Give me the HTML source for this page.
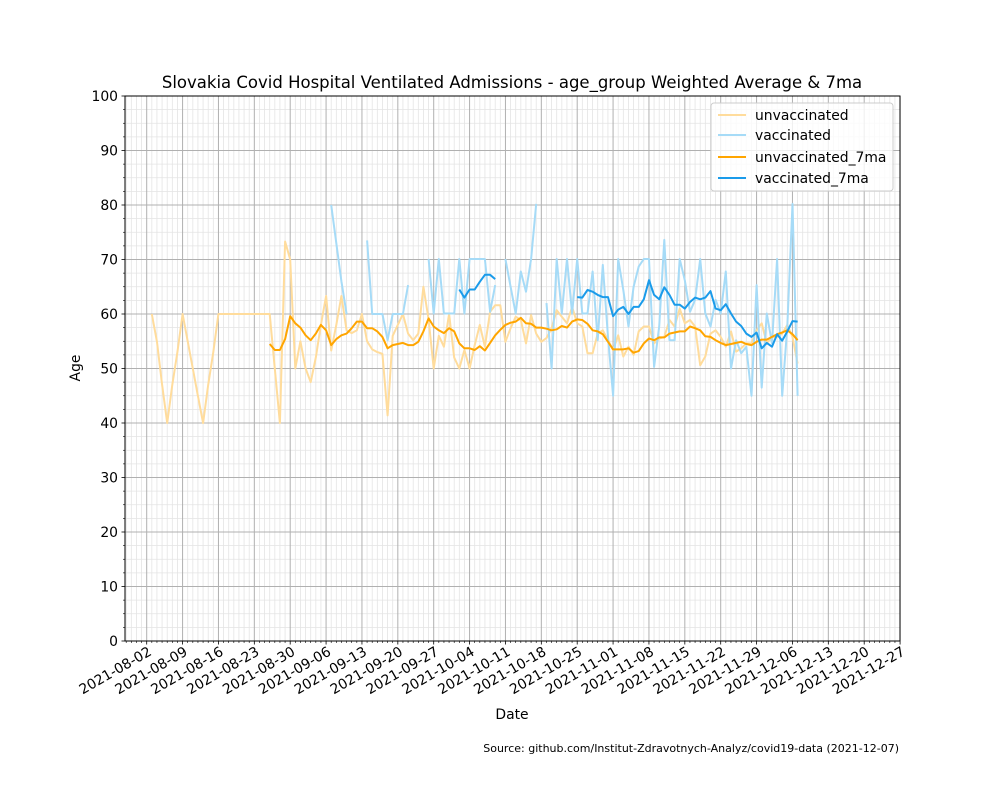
<!DOCTYPE html>
<html><head><meta charset="utf-8"><style>
html,body{margin:0;padding:0;background:#fff;}
svg{display:block;font-family:"DejaVu Sans","Liberation Sans",sans-serif;}
</style></head><body>
<svg id="chart" width="1000" height="800" viewBox="0 0 1000 800" xmlns="http://www.w3.org/2000/svg">
<rect x="0" y="0" width="1000" height="800" fill="#fff"/>
<g id="grid"></g>
<g id="series"></g>
<rect x="125" y="96" width="775" height="545" fill="none" stroke="#000" stroke-width="1"/>
<g id="axes"></g>
<text x="512" y="88" text-anchor="middle" font-size="16.5">Slovakia Covid Hospital Ventilated Admissions - age_group Weighted Average &amp; 7ma</text>
<text transform="translate(80,368) rotate(-90)" text-anchor="middle" font-size="13.9">Age</text>
<text x="512" y="719" text-anchor="middle" font-size="13.9">Date</text>
<text x="899" y="752" text-anchor="end" font-size="11">Source: github.com/Institut-Zdravotnych-Analyz/covid19-data (2021-12-07)</text>
<g>
<rect x="711" y="103" width="182" height="88" rx="3" fill="#fff" fill-opacity="0.8" stroke="#ccc"/>
<g><line x1="718" y1="115" x2="746" y2="115" stroke="#ffdc9c" stroke-width="2"/><text x="755" y="120" font-size="13.9">unvaccinated</text></g>
<g><line x1="718" y1="135" x2="746" y2="135" stroke="#a6dbf7" stroke-width="2"/><text x="755" y="140" font-size="13.9">vaccinated</text></g>
<g><line x1="718" y1="157" x2="746" y2="157" stroke="#ffa500" stroke-width="2"/><text x="755" y="162" font-size="13.9">unvaccinated_7ma</text></g>
<g><line x1="718" y1="178" x2="746" y2="178" stroke="#1a9bea" stroke-width="2"/><text x="755" y="183" font-size="13.9">vaccinated_7ma</text></g>
</g>
</svg>
<script>
const xTickLabels = ["2021-08-02","2021-08-09","2021-08-16","2021-08-23","2021-08-30","2021-09-06","2021-09-13","2021-09-20","2021-09-27","2021-10-04","2021-10-11","2021-10-18","2021-10-25","2021-11-01","2021-11-08","2021-11-15","2021-11-22","2021-11-29","2021-12-06","2021-12-13","2021-12-20","2021-12-27"];
const yTicks = [0,10,20,30,40,50,60,70,80,90,100];
const unvaxStart = 1;
const unvax = [60,55,47,40,47,53,60,55,50,45,40,47,53,60,
60,60,60,60,60,60,60,60,60,60,
50,40,73.3,70,50,55,50,47.5,52,58,63.3,53.3,58,63.3,57,56.5,57,60,55,53.5,53,52.7,
41.4,56,58,60,56.4,55.2,56.4,65,59,50,56,54,60,52,50,53.4,50,54.3,58,54,60.4,61.6,61.6,54.9,57.4,59.5,58.9,54.6,59.8,56.4,54.9,55.6,57.4,60.7,59.5,58.3,61.3,58.3,57.7,52.8,52.8,56.4,
57,55.2,53.4,56.1,52.2,54,52.5,56.8,57.7,57.7,54.6,55.5,55.8,58.9,57.7,61,58.3,58.9,57.7,50.6,52.2,56.4,57,55.8,54,56.8,53.1,53.7,54.6,54.6,57,58.3,54.6,55.8,55.8,56.4,58,55.8,50.9];
const vaxStart = 36;
const vax = [80,73,66,60,null,null,null,73.5,60,60,60,55.2,60,60,60,65.3,null,null,null,
70.1,60.1,70.1,60.1,60.1,60.1,70.1,60.1,70.1,70.1,70.1,70.1,60.4,65.3,null,
70.1,65,60.1,67.8,64.1,70.1,80.2,null,
62,50,70.1,60.1,70.1,60.1,70.1,60.1,60.1,67.8,55.2,69,55.8,45,70.1,64.4,57.7,65,68.7,70.1,70.1,50.3,57.7,73.6,55.2,55.2,70.1,66.2,60.4,62.6,70.1,60.1,57.7,62.6,60.1,67.8,50,55.2,52.8,54,45,65.3,46.5,60.1,54.6,70.1,45,57.7,80.2,45];
const unvax7Start = 24;
const unvax7 = [54.5,53.4,53.4,55.4,59.6,58.3,57.5,56.1,55.2,56.4,58,57,54.3,55.4,56.1,56.4,57.4,58.6,58.6,57.4,57.4,56.8,55.8,
53.7,54.3,54.5,54.7,54.3,54.3,54.9,56.8,59.2,57.7,57,56.5,57.4,56.8,54.6,53.7,53.7,53.4,54.1,53.3,54.7,56.1,57.1,58,58.4,58.6,59.3,58.3,58.2,57.5,57.5,57.3,57,57.2,57.8,57.5,58.6,59,58.9,58.2,57,56.8,56.3,54.9,53.5,53.5,53.5,53.7,52.9,53.2,
54.6,55.5,55.2,55.7,55.7,56.4,56.6,56.8,56.8,57.7,57.4,57,55.9,55.8,55.2,54.7,54.3,54.5,54.7,54.9,54.5,54.3,54.9,55.3,55.3,55.8,56.3,56.6,57,56.3,55.2];
const vax7Start = 61;
const vax7 = [64.5,63.0,64.5,64.5,65.9,67.2,67.2,66.4,
null,null,null,null,null,null,null,null,null,null,null,null,null,null,null,
63.1,63.0,64.4,64.1,63.5,63.1,63.1,59.6,60.8,61.3,60,61.3,61.3,62.7,66.2,63.5,62.7,64.9,63.5,61.7,61.7,61.0,62.2,63.0,62.7,63.0,64.2,61,60.7,61.8,60.1,58.6,57.8,56.4,55.8,56.6,53.7,54.7,54,56.3,55.1,56.8,58.7,58.6];

const NS = "http://www.w3.org/2000/svg";
const X0 = 146.7, DX = 5.125, Y0 = 641, YS = 5.45;
function xs(d){ return X0 + d*DX; }
function ys(v){ return Y0 - v*YS; }
function mk(tag, attrs, parent){ const e=document.createElementNS(NS,tag); for(const k in attrs) e.setAttribute(k,attrs[k]); parent.appendChild(e); return e; }

const grid = document.getElementById('grid');
const axes = document.getElementById('axes');
for(let d=-4; d<=147; d++){
  if(d%7===0) continue;
  const x=xs(d); if(x<125||x>900) continue;
  const l=mk('line',{x1:x,y1:96,x2:x,y2:641,stroke:'#e4e4e4','stroke-width':0.8},grid);
  
  
  mk('line',{x1:x,y1:641,x2:x,y2:643,stroke:'#000','stroke-width':0.6},axes);
}
for(let v=0; v<=100; v+=2.5){
  if(v%10===0) continue;
  const l=mk('line',{x1:125,y1:ys(v),x2:900,y2:ys(v),stroke:'#e4e4e4','stroke-width':0.8},grid);
  
  
  mk('line',{x1:123,y1:ys(v),x2:125,y2:ys(v),stroke:'#000','stroke-width':0.6},axes);
}
xTickLabels.forEach((lab,i)=>{
  const x=xs(i*7);
  const l=mk('line',{x1:x,y1:96,x2:x,y2:641,stroke:'#b0b0b0','stroke-width':1},grid);
  
  
  mk('line',{x1:x,y1:641,x2:x,y2:644.5,stroke:'#000','stroke-width':0.8},axes);
  const t=mk('text',{x:x+1,y:646,'text-anchor':'end','font-size':13.9,transform:`rotate(-30 ${x+1} 646)`,'dominant-baseline':'hanging'},axes);
  t.textContent=lab;
  
  
});
yTicks.forEach(v=>{
  const y=ys(v);
  const l=mk('line',{x1:125,y1:y,x2:900,y2:y,stroke:'#b0b0b0','stroke-width':1},grid);
  
  
  mk('line',{x1:121.5,y1:y,x2:125,y2:y,stroke:'#000','stroke-width':0.8},axes);
  const t=mk('text',{x:118,y:y+5,'text-anchor':'end','font-size':13.9},axes);
  t.textContent=v;
  
  
});

const series = document.getElementById('series');
function drawSeries(vals,start,color,width,name){
  let segs=[],cur=[];
  vals.forEach((v,i)=>{
    if(v===null){ if(cur.length) segs.push(cur); cur=[]; }
    else cur.push([xs(start+i),ys(v)]);
  });
  if(cur.length) segs.push(cur);
  const d=segs.map(s=>'M'+s.map(p=>p[0].toFixed(1)+','+p[1].toFixed(1)).join('L')).join(' ');
  const p=mk('path',{d:d,fill:'none',stroke:color,'stroke-width':width,'stroke-linejoin':'round'},series);
  
  
}
drawSeries(unvax,unvaxStart,'#ffdc9c',2,'unvaccinated-line');
drawSeries(vax,vaxStart,'#a6dbf7',2,'vaccinated-line');
drawSeries(unvax7,unvax7Start,'#ffa500',2,'unvaccinated-7ma-line');
drawSeries(vax7,vax7Start,'#1a9bea',2,'vaccinated-7ma-line');
</script>
</body></html>
